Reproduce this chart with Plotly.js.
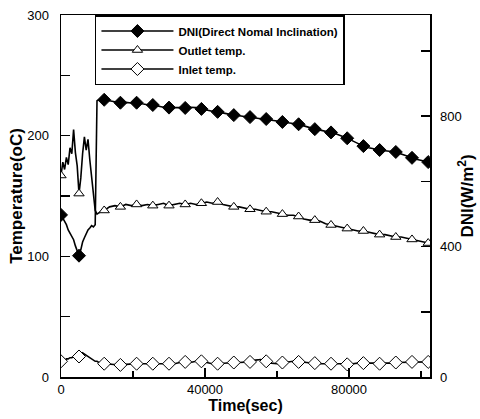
<!DOCTYPE html>
<html>
<head>
<meta charset="utf-8">
<script src="https://cdn.plot.ly/plotly-3.0.1.min.js"></script>
<style>html,body{margin:0;padding:0;background:#fff}#chart{width:480px;height:419px}</style>
</head>
<body>
<div id="chart"></div>
<script>
// Time (sec)
const time = [
  0,500,1000,1500,2000,2500,3000,3500,4000,4500,5000,5500,6000,6500,7000,7500,8000,8500,9000,9500,10000,10500,11000,11500,12000,
  13500,15000,16500,18000,19500,21000,22500,24000,25500,27000,28500,30000,31500,33000,34500,36000,37500,39000,40500,42000,
  43500,45000,46500,48000,49500,51000,52500,54000,55500,57000,58500,60000,61500,63000,64500,66000,67500,69000,70500,72000,
  73500,75000,76500,78000,79500,81000,82500,84000,85500,87000,88500,90000,91500,93000,94500,96000,97500,99000,100500,102000
];
// DNI (W/m2), right axis
const dni = [
  497,488,476,467,451,442,433,421,402,384,372,390,414,427,439,451,457,464,460,467,847,850,851,851,850,
  846,843,841,842,840,841,837,835,834,830,827,826,827,826,825,827,826,822,818,815,
  813,809,806,803,801,799,797,795,793,791,787,785,782,780,778,775,770,764,760,757,
  754,750,745,739,732,724,715,708,703,699,696,694,692,690,684,677,672,667,663,659
];
// Outlet temperature (oC), left axis
const outlet = [
  167,178,172,182,176,190,185,205,186,175,152,165,185,199,188,197,180,165,150,138,135,136,137,137,138,
  141,142,141,143,142,143,142,143,142,143,144,142,143,144,143,144,143,144,145,144,
  145,143,142,141,141,140,139,139,138,137,137,136,135,134,134,133,131,130,130,129,
  127,126,125,124,123,122,121,121,120,119,118,118,117,116,116,115,114,113,112,111
];
// Inlet temperature (oC), left axis
const inlet = [
  13,14,13,15,15,16,16,17,17,18,17,18,20,19,18,17,16,15,14,13,13,12,12,11,11,
  10.5,10,10,10.5,11,11,11,11,11,11,11.5,11,11,12,12.5,12,13,13,12,11,
  11,11.5,12,12,12,12,12.5,14,14.5,13,11.5,11,12,12.5,13,12.5,12,12,11.5,11,
  11,11,10.5,10.5,10.5,11,11.5,11.5,11,11,11,11,11.5,12,12,12,12.5,12.5,12.5,12.5
];
// indices of points that carry a marker symbol
const markerIdx = [0,10,24,27,30,33,36,39,42,45,48,51,54,57,60,63,66,69,72,75,78,81,84];

const black = '#000';
const masked = (arr) => arr.map((v, i) => markerIdx.includes(i) ? v : null);
const lineStyle = {color: black, width: 1.6};

const traces = [
  {x: time, y: dni, yaxis: 'y2', mode: 'lines', line: lineStyle, showlegend: false},
  {x: time, y: outlet, mode: 'lines', line: lineStyle, showlegend: false},
  {x: time, y: inlet, mode: 'lines', line: lineStyle, showlegend: false},
  {x: time, y: masked(dni), yaxis: 'y2', mode: 'lines+markers', connectgaps: false, name: 'DNI(Direct Nomal Inclination)',
   line: lineStyle, marker: {symbol: 'diamond', size: 10, color: black, opacity: 1, line: {color: black, width: 1}}},
  {x: time, y: masked(outlet), mode: 'lines+markers', connectgaps: false, name: 'Outlet temp.',
   line: lineStyle, marker: {symbol: 'triangle-up', size: 9, color: '#fff', opacity: 1, line: {color: black, width: 1}}},
  {x: time, y: masked(inlet), mode: 'lines+markers', connectgaps: false, name: 'Inlet temp.',
   line: lineStyle, marker: {symbol: 'diamond', size: 10, color: '#fff', opacity: 1, line: {color: black, width: 1}}}
];

const tickFont = {family: 'Liberation Sans, Arial, sans-serif', size: 13, color: black};
const titleFont = {family: 'Liberation Sans, Arial, sans-serif', size: 17, color: black, weight: 'bold'};

const layout = {
  width: 480, height: 419,
  margin: {l: 61, r: 50, t: 15, b: 42},
  paper_bgcolor: '#fff', plot_bgcolor: '#fff',
  showlegend: true,
  legend: {
    x: 0.092, y: 1, xanchor: 'left', yanchor: 'top',
    bgcolor: '#fff', bordercolor: black, borderwidth: 1.5,
    font: {family: 'Liberation Sans, Arial, sans-serif', size: 11.5, color: black, weight: 'bold'},
    tracegroupgap: 0, itemwidth: 72
  },
  xaxis: {
    range: [0, 102500], tickvals: [0, 40000, 80000], tickformat: 'd',
    ticks: 'inside', ticklen: 9, tickwidth: 1.5, tickcolor: black,
    minor: {tickvals: [20000, 60000, 100000], ticks: 'inside', ticklen: 6, tickwidth: 1.5, tickcolor: black},
    showline: true, linewidth: 1.5, linecolor: black, mirror: true,
    showgrid: false, zeroline: false, tickfont: tickFont,
    title: {text: 'Time(sec)', font: {family: 'Liberation Sans, Arial, sans-serif', size: 16, color: black, weight: 'bold'}, standoff: 2}
  },
  yaxis: {
    range: [0, 300], tickvals: [0, 100, 200, 300],
    ticks: 'inside', ticklen: 9, tickwidth: 1.5, tickcolor: black,
    minor: {tickvals: [50, 150, 250], ticks: 'inside', ticklen: 9, tickwidth: 1.5, tickcolor: black},
    showline: true, linewidth: 1.5, linecolor: black,
    showgrid: false, zeroline: false, tickfont: tickFont, ticklabelstandoff: 8,
    title: {text: 'Temperature(oC)', font: titleFont, standoff: 0}
  },
  yaxis2: {
    overlaying: 'y', side: 'right', range: [0, 1110], tickvals: [0, 400, 800],
    ticks: 'inside', ticklen: 9, tickwidth: 1.5, tickcolor: black,
    minor: {tickvals: [200, 600, 1000], ticks: 'inside', ticklen: 9, tickwidth: 1.5, tickcolor: black},
    showline: true, linewidth: 1.5, linecolor: black,
    showgrid: false, zeroline: false, tickfont: tickFont, ticklabelstandoff: 6,
    title: {text: 'DNI(W/m<sup>2</sup>)', font: titleFont, standoff: 0}
  }
};

Plotly.newPlot('chart', traces, layout, {displayModeBar: false, staticPlot: true});
</script>
</body>
</html>
